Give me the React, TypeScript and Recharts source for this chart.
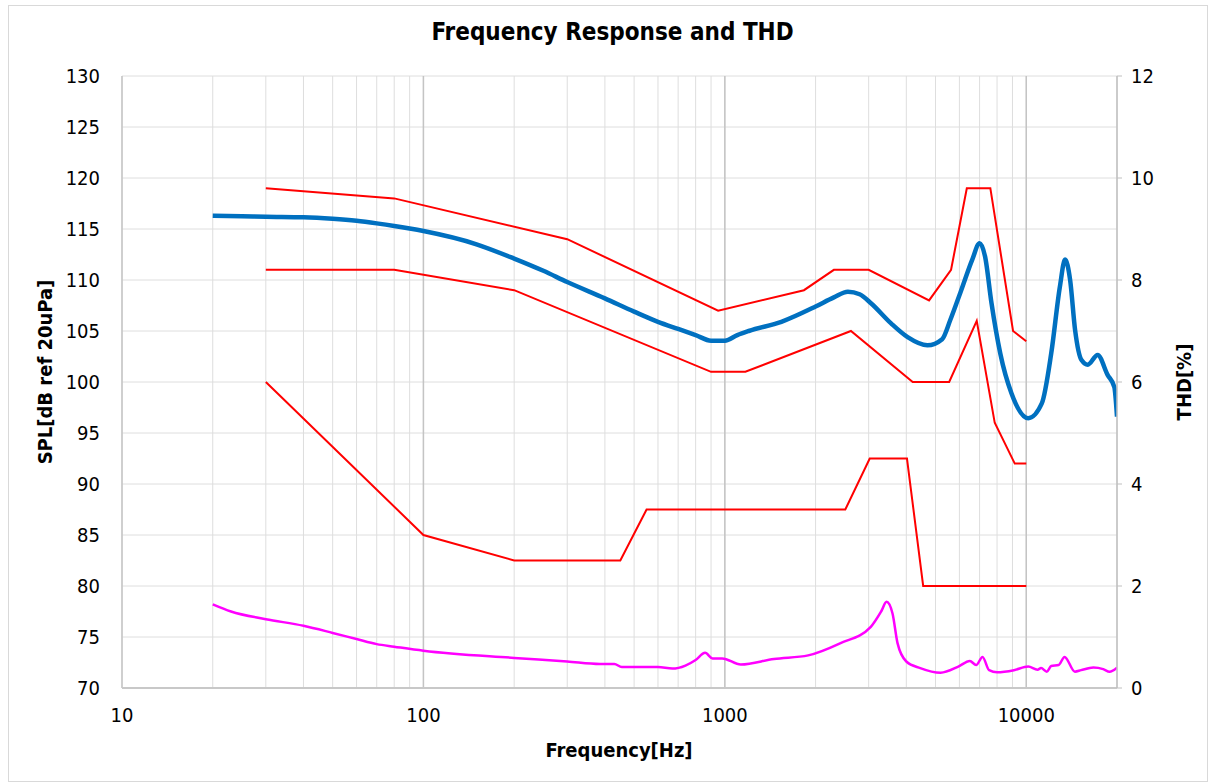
import React from 'react';
import { ComposedChart, Line, XAxis, YAxis, CartesianGrid, ReferenceLine } from 'recharts';

// x ticks: every 1-2-...-9 step per decade, only decades get a label
const freqTicks = [
  10, 20, 30, 40, 50, 60, 70, 80, 90,
  100, 200, 300, 400, 500, 600, 700, 800, 900,
  1000, 2000, 3000, 4000, 5000, 6000, 7000, 8000, 9000,
  10000, 20000,
];
const decadeTicks = [10, 100, 1000, 10000];
const splTicks = [70, 75, 80, 85, 90, 95, 100, 105, 110, 115, 120, 125, 130];
const thdTicks = [0, 2, 4, 6, 8, 10, 12];

// measured SPL response (blue)
const splFreq = [20, 25, 30, 40, 50, 60, 70, 80, 90, 100, 150, 200, 250, 300, 400, 500, 600, 700, 800, 900, 1000, 1100, 1200, 1540, 2000, 2300, 2560, 2800, 3060, 3560, 4040, 4700, 5260, 5600, 6060, 6620, 7000, 7300, 7670, 8200, 8930, 10160, 11260, 12100, 12930, 13450, 13980, 14520, 15250, 16000, 17250, 18610, 19600, 20000];
const splValues = [116.3, 116.25, 116.2, 116.15, 116.0, 115.8, 115.55, 115.3, 115.05, 114.8, 113.5, 112.1, 110.9, 109.8, 108.2, 106.9, 105.9, 105.2, 104.6, 104.05, 104.05, 104.6, 105.0, 105.9, 107.4, 108.3, 108.85, 108.6, 107.7, 105.75, 104.4, 103.6, 104.2, 106.1, 108.85, 112.0, 113.6, 112.3, 107.7, 102.8, 98.9, 96.45, 97.9, 102.8, 109.35, 112.0, 110.0, 105.1, 102.15, 101.7, 102.65, 100.7, 99.5, 96.6];

// limit lines (red)
const upperFreq = [30, 80, 300, 950, 1830, 2300, 3000, 4760, 5630, 6350, 7600, 9040, 10000];
const upperValues = [119, 118, 114, 107, 109, 111, 111, 108, 111, 119, 119, 105, 104];
const middleFreq = [30, 80, 200, 900, 1170, 2620, 4200, 5550, 6850, 7860, 9160, 10000];
const middleValues = [111, 111, 109, 101, 101, 105, 100, 100, 106, 96, 92, 92];
const lowerFreq = [30, 100, 200, 450, 550, 2510, 3025, 4020, 4550, 10000];
const lowerValues = [100, 85, 82.5, 82.5, 87.5, 87.5, 92.5, 92.5, 80, 80];

// THD in % (magenta, right axis)
const thdFreq = [20, 23, 30, 40, 50, 60, 70, 80, 100, 200, 300, 385, 430, 455, 600, 670, 740, 800, 860, 910, 980, 1130, 1455, 1890, 2420, 3050, 3300, 3440, 3600, 3740, 4000, 4450, 5200, 5950, 6500, 6820, 7160, 7530, 8000, 9100, 10150, 10900, 11200, 11700, 12100, 12800, 13400, 14500, 15200, 16700, 18000, 18900, 20000];
const thdValues = [1.64, 1.5, 1.35, 1.22, 1.08, 0.96, 0.86, 0.81, 0.73, 0.59, 0.52, 0.47, 0.47, 0.41, 0.41, 0.38, 0.44, 0.55, 0.69, 0.58, 0.58, 0.46, 0.57, 0.64, 0.88, 1.2, 1.5, 1.69, 1.46, 0.88, 0.52, 0.39, 0.3, 0.42, 0.53, 0.45, 0.61, 0.35, 0.31, 0.35, 0.42, 0.36, 0.39, 0.32, 0.43, 0.45, 0.61, 0.32, 0.35, 0.4, 0.37, 0.32, 0.4];

const toRows = (xs: number[], ys: number[]) => xs.map((f, i) => ({ f, v: ys[i] }));

const FONT = "'Liberation Sans Narrow', 'DejaVu Sans Condensed', 'Open Sans', sans-serif";
const tickStyle = { fill: '#000', fontSize: 20, fontFamily: FONT };

export default function App() {
  return (
    <div style={{ position: 'absolute', left: 0, top: 0, width: 1209, height: 783, background: '#fff', fontFamily: FONT }}>
      <div style={{ position: 'absolute', left: 8, top: 5, width: 1200, height: 777, border: '1px solid #d9d9d9', boxSizing: 'border-box' }} />
      <div style={{ position: 'absolute', left: 0, width: 1225, top: 18, textAlign: 'center', fontSize: 24, fontWeight: 'bold' }}>
        Frequency Response and THD
      </div>
      <div style={{ position: 'absolute', left: 0, width: 1238, top: 738, textAlign: 'center', fontSize: 20, fontWeight: 'bold' }}>
        Frequency[Hz]
      </div>
      <div style={{ position: 'absolute', left: 45, top: 372, transform: 'translate(-50%, -50%) rotate(-90deg)', whiteSpace: 'nowrap', fontSize: 20, fontWeight: 'bold' }}>
        SPL[dB ref 20uPa]
      </div>
      <div style={{ position: 'absolute', left: 1184, top: 382, transform: 'translate(-50%, -50%) rotate(-90deg)', whiteSpace: 'nowrap', fontSize: 20, fontWeight: 'bold' }}>
        THD[%]
      </div>
      <div style={{ position: 'absolute', left: 0, top: 0 }}>
        <ComposedChart width={1209} height={783} margin={{ top: 76, right: 32, bottom: 35, left: 62 }}>
          <CartesianGrid xAxisId="x" yAxisId="left" stroke="#dedede" strokeWidth={1} />
          <XAxis
            xAxisId="x"
            type="number"
            dataKey="f"
            scale="log"
            domain={[10, 20000]}
            ticks={freqTicks}
            interval={0}
            allowDataOverflow
            tickFormatter={(v: number) => (decadeTicks.includes(v) ? String(v) : '')}
            tick={tickStyle}
            tickLine={false}
            tickSize={0}
            tickMargin={20}
            axisLine={{ stroke: '#c8c8c8', strokeWidth: 2 }}
            height={60}
          />
          <YAxis
            yAxisId="left"
            orientation="left"
            domain={[70, 130]}
            ticks={splTicks}
            interval={0}
            tick={tickStyle}
            tickLine={false}
            axisLine={false}
            tickSize={0}
            tickMargin={22}
            width={60}
          />
          <YAxis
            yAxisId="right"
            orientation="right"
            domain={[0, 12]}
            ticks={thdTicks}
            interval={0}
            tick={tickStyle}
            tickLine={{ stroke: '#bfbfbf' }}
            axisLine={{ stroke: '#bfbfbf', strokeWidth: 1.5 }}
            tickSize={5}
            tickMargin={9}
            width={60}
          />
          {decadeTicks.map((d) => (
            <ReferenceLine key={d} x={d} xAxisId="x" yAxisId="left" stroke="#c4c4c4" strokeWidth={1.5} />
          ))}
          <Line xAxisId="x" yAxisId="left" data={toRows(upperFreq, upperValues)} dataKey="v" type="linear" stroke="#ff0000" strokeWidth={2} dot={false} isAnimationActive={false} />
          <Line xAxisId="x" yAxisId="left" data={toRows(middleFreq, middleValues)} dataKey="v" type="linear" stroke="#ff0000" strokeWidth={2} dot={false} isAnimationActive={false} />
          <Line xAxisId="x" yAxisId="left" data={toRows(lowerFreq, lowerValues)} dataKey="v" type="linear" stroke="#ff0000" strokeWidth={2} dot={false} isAnimationActive={false} />
          <Line xAxisId="x" yAxisId="right" data={toRows(thdFreq, thdValues)} dataKey="v" type="monotone" stroke="#ff00ff" strokeWidth={2.5} dot={false} isAnimationActive={false} />
          <Line xAxisId="x" yAxisId="left" data={toRows(splFreq, splValues)} dataKey="v" type="monotone" stroke="#0070c0" strokeWidth={4.5} dot={false} isAnimationActive={false} />
        </ComposedChart>
      </div>
    </div>
  );
}
